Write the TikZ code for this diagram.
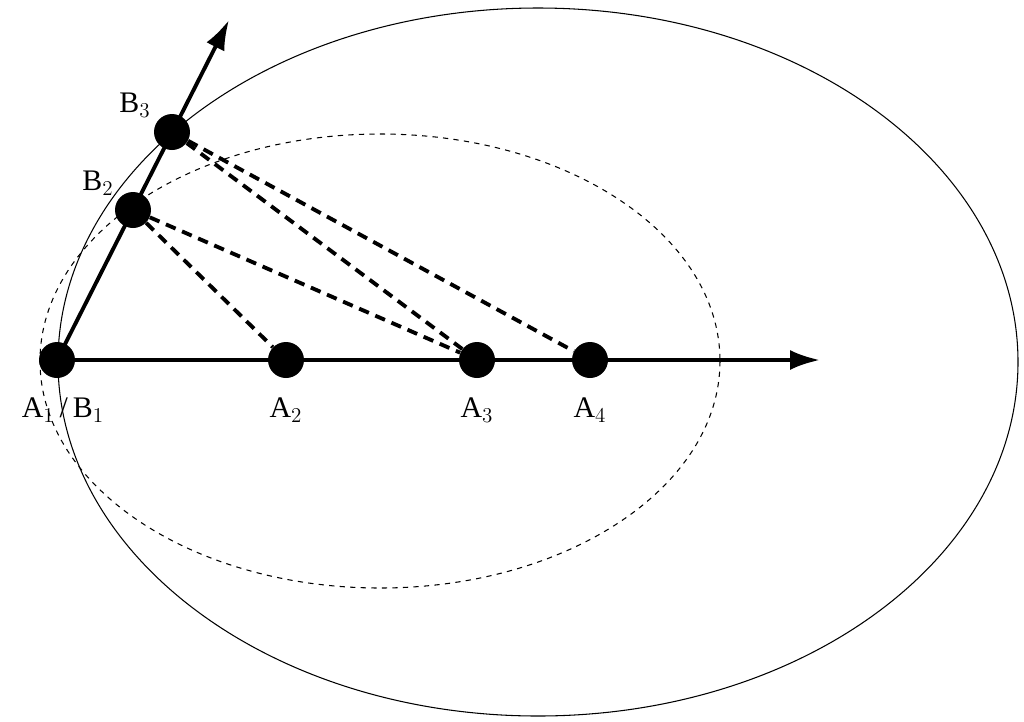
\documentclass[tikz,border=0pt]{standalone}
\usepackage{fontspec}
\setmainfont{Liberation Serif}
\usetikzlibrary{arrows.meta}
\begin{document}
\begin{tikzpicture}[x=0.02cm,y=-0.02cm,
  dot/.style={circle,fill=black,inner sep=0pt,minimum size=0.72cm},
  lbl/.style={font=\fontsize{17}{20}\selectfont,inner sep=0pt},
  ax/.style={line width=2.2pt,-{Latex[length=0.6cm,width=0.4cm]}},
  dl/.style={line width=2.2pt,dash pattern=on 6pt off 4pt}]
\useasboundingbox (0,0) rectangle (1024,721);
\draw[line width=0.6pt] (538,362) ellipse [x radius=480,y radius=354];
\draw[line width=0.6pt,dashed] (380,361) ellipse [x radius=340,y radius=227];
\coordinate (xe) at (820,360);
\coordinate (ye) at (229,20);
\node[dot] (A1) at (57,360) {};
\node[dot] (A2) at (286,360) {};
\node[dot] (A3) at (477,360) {};
\node[dot] (A4) at (590,360) {};
\node[dot] (B2) at (133,210) {};
\node[dot] (B3) at (172,132) {};
\draw[ax] (A1.center) -- (xe);
\draw[ax] (A1.center) -- (ye);
\draw[dl] (B2) -- (A2);
\draw[dl] (B2) -- (A3);
\draw[dl] (B3) -- (A3);
\draw[dl] (B3) -- (A4);
\node[lbl] (l1) at (63,410) {A$_1$\,/\,B$_1$};
\node[lbl] (l2) at (286,410) {A$_2$};
\node[lbl] (l3) at (477,410) {A$_3$};
\node[lbl] (l4) at (590,410) {A$_4$};
\node[lbl] (l5) at (98,183) {B$_2$};
\node[lbl] (l6) at (135,105) {B$_3$};
\end{tikzpicture}
\end{document}
